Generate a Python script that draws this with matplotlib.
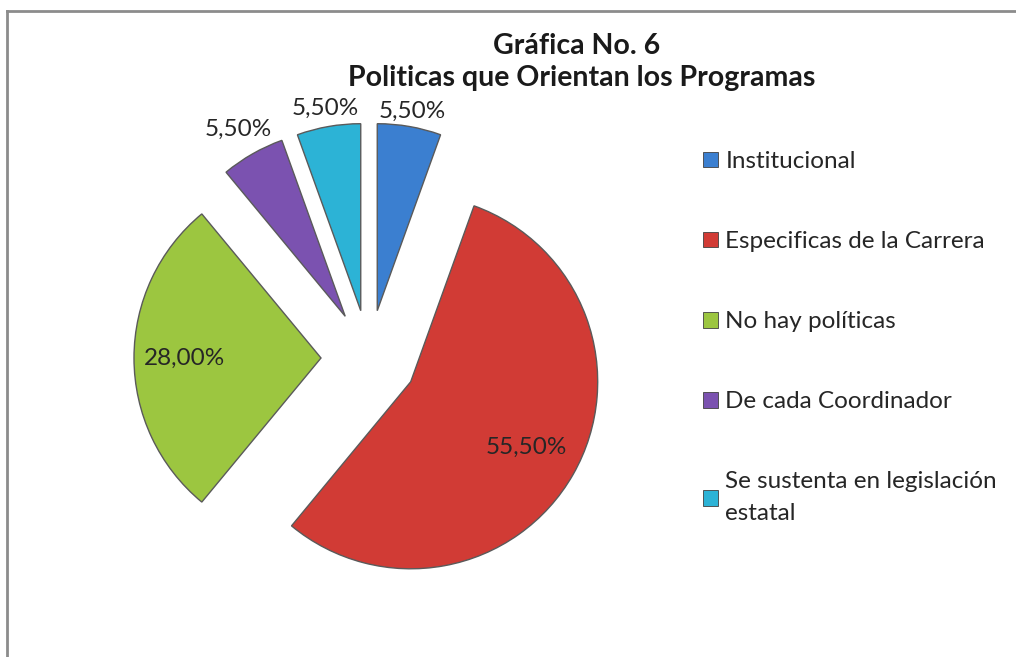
import matplotlib.pyplot as plt
from matplotlib.patches import Rectangle
from matplotlib.lines import Line2D
import numpy as np

plt.rcParams['font.family'] = ['Lato', 'DejaVu Sans']

labels = ['Institucional', 'Especificas de la Carrera', 'No hay políticas',
          'De cada Coordinador', 'Se sustenta en legislación\nestatal']
values = [5.5, 55.5, 28.0, 5.5, 5.5]
value_text = ['5,50%', '55,50%', '28,00%', '5,50%', '5,50%']
colors = ['#3b7fd0', '#d13b35', '#9cc640', '#7b52b0', '#2cb3d6']

# label distance from each wedge's own (exploded) centre, in radii
label_dist = [1.08, 0.71, 0.73, 1.15, 1.10]

fig = plt.figure(figsize=(10.16, 6.57), dpi=100)
ax = fig.add_axes([0, 0, 1, 1])

cx, cy, R = 369, 299, 187
expl = 48  # pie explode offset is in data units
wedges, _ = ax.pie(values, colors=colors, startangle=90, counterclock=False,
                   explode=[expl] * len(values), center=(cx, cy), radius=R,
                   wedgeprops=dict(edgecolor='#5a5a5a', linewidth=1.0))
ax.set_xlim(0, 1016)
ax.set_ylim(0, 657)
ax.set_aspect('equal')
ax.axis('off')

for w, txt, d in zip(wedges, value_text, label_dist):
    th = np.deg2rad((w.theta1 + w.theta2) / 2)
    x0, y0 = w.center
    ax.text(x0 + d * R * np.cos(th), y0 + d * R * np.sin(th), txt,
            ha='center', va='center', fontsize=17.5, color='#262626')

# frame lines (top and left edges of the chart area)
fig.add_artist(Line2D([7, 1016], [657 - 11, 657 - 11], transform=None,
                      color='#8c8c8c', linewidth=2))
fig.add_artist(Line2D([7, 7], [0, 657 - 11], transform=None,
                      color='#8c8c8c', linewidth=2))

fig.text(0.568, 0.930, 'Gráfica No. 6', ha='center', va='center',
         fontsize=20.5, fontweight='bold', color='#1a1a1a')
fig.text(0.573, 0.881, 'Politicas que Orientan los Programas', ha='center',
         va='center', fontsize=20.5, fontweight='bold', color='#1a1a1a')

handles = [Rectangle((0, 0), 1, 1, facecolor=c, edgecolor='#404040', linewidth=0.6)
           for c in colors]
leg = fig.legend(handles, labels, loc='upper left', bbox_to_anchor=(0.692, 0.770),
                 frameon=False, fontsize=17.5, handlelength=0.62, handleheight=0.62,
                 handletextpad=0.3, labelspacing=2.43, borderpad=0, borderaxespad=0)
for t in leg.get_texts():
    t.set_color('#262626')
leg.get_texts()[-1].set_linespacing(1.65)

fig.savefig('out.png', dpi=100)
